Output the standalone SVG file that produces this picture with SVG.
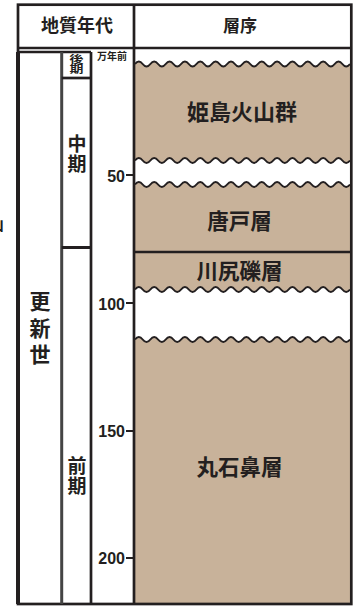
<svg xmlns="http://www.w3.org/2000/svg" xmlns:xlink="http://www.w3.org/1999/xlink" width="357" height="606" viewBox="0 0 357 606">
<style>
.ln{stroke:#231f20;fill:none;stroke-width:2.7}
.wv{stroke:#231f20;fill:none;stroke-width:2}
.br{fill:#c8b29a}
.wh{fill:#ffffff}
.jp{font-family:"Noto Sans CJK JP","Noto Sans CJK SC",sans-serif;font-weight:700;fill:#231f20;text-anchor:middle}
.vt{font-family:"Noto Sans CJK JP","Noto Sans CJK SC",sans-serif;font-weight:700;fill:#231f20;writing-mode:vertical-rl;text-anchor:start}
.num{font-family:"Liberation Sans",Arial,sans-serif;font-weight:700;font-size:16px;fill:#231f20;text-anchor:end}
</style>
<defs>
<path id="wave" d="M135,0 q3.84,-5 7.68,0 t7.68,0 t7.68,0 t7.68,0 t7.68,0 t7.68,0 t7.68,0 t7.68,0 t7.68,0 t7.68,0 t7.68,0 t7.68,0 t7.68,0 t7.68,0 t7.68,0 t7.68,0 t7.68,0 t7.68,0 t7.68,0 t7.68,0 t7.68,0 t7.68,0 t7.68,0 t7.68,0 t7.68,0 t7.68,0 t7.68,0 t7.68,0"/>
</defs>
<rect x="0" y="0" width="357" height="606" fill="#ffffff"/>
<text x="-12" y="230" class="jp" style="font-size:16px;text-anchor:start">山</text>

<g id="strata-fill">
<rect class="br" x="135" y="49" width="216" height="555"/>
<path class="wh" d="M135,49 H350.04 V64 q-3.84,5 -7.68,0 t-7.68,0 t-7.68,0 t-7.68,0 t-7.68,0 t-7.68,0 t-7.68,0 t-7.68,0 t-7.68,0 t-7.68,0 t-7.68,0 t-7.68,0 t-7.68,0 t-7.68,0 t-7.68,0 t-7.68,0 t-7.68,0 t-7.68,0 t-7.68,0 t-7.68,0 t-7.68,0 t-7.68,0 t-7.68,0 t-7.68,0 t-7.68,0 t-7.68,0 t-7.68,0 t-7.68,0 Z"/>
<path class="wh" d="M135,160.5 q3.84,-5 7.68,0 t7.68,0 t7.68,0 t7.68,0 t7.68,0 t7.68,0 t7.68,0 t7.68,0 t7.68,0 t7.68,0 t7.68,0 t7.68,0 t7.68,0 t7.68,0 t7.68,0 t7.68,0 t7.68,0 t7.68,0 t7.68,0 t7.68,0 t7.68,0 t7.68,0 t7.68,0 t7.68,0 t7.68,0 t7.68,0 t7.68,0 t7.68,0 L350.04,184.5 q-3.84,5 -7.68,0 t-7.68,0 t-7.68,0 t-7.68,0 t-7.68,0 t-7.68,0 t-7.68,0 t-7.68,0 t-7.68,0 t-7.68,0 t-7.68,0 t-7.68,0 t-7.68,0 t-7.68,0 t-7.68,0 t-7.68,0 t-7.68,0 t-7.68,0 t-7.68,0 t-7.68,0 t-7.68,0 t-7.68,0 t-7.68,0 t-7.68,0 t-7.68,0 t-7.68,0 t-7.68,0 t-7.68,0 Z"/>
<path class="wh" d="M135,289.5 q3.84,-5 7.68,0 t7.68,0 t7.68,0 t7.68,0 t7.68,0 t7.68,0 t7.68,0 t7.68,0 t7.68,0 t7.68,0 t7.68,0 t7.68,0 t7.68,0 t7.68,0 t7.68,0 t7.68,0 t7.68,0 t7.68,0 t7.68,0 t7.68,0 t7.68,0 t7.68,0 t7.68,0 t7.68,0 t7.68,0 t7.68,0 t7.68,0 t7.68,0 L350.04,339.5 q-3.84,5 -7.68,0 t-7.68,0 t-7.68,0 t-7.68,0 t-7.68,0 t-7.68,0 t-7.68,0 t-7.68,0 t-7.68,0 t-7.68,0 t-7.68,0 t-7.68,0 t-7.68,0 t-7.68,0 t-7.68,0 t-7.68,0 t-7.68,0 t-7.68,0 t-7.68,0 t-7.68,0 t-7.68,0 t-7.68,0 t-7.68,0 t-7.68,0 t-7.68,0 t-7.68,0 t-7.68,0 t-7.68,0 Z"/>
</g>

<g id="connectors">
<use xlink:href="#wave" href="#wave" class="wv" y="64"/>
<use xlink:href="#wave" href="#wave" class="wv" y="160.5"/>
<use xlink:href="#wave" href="#wave" class="wv" y="184.5"/>
<use xlink:href="#wave" href="#wave" class="wv" y="289.5"/>
<use xlink:href="#wave" href="#wave" class="wv" y="339.5"/>
<line class="ln" x1="135" y1="252" x2="351" y2="252"/>
<line class="ln" x1="126" y1="175" x2="133" y2="175" style="stroke-width:2"/>
<line class="ln" x1="126" y1="303" x2="133" y2="303" style="stroke-width:2"/>
<line class="ln" x1="126" y1="431" x2="133" y2="431" style="stroke-width:2"/>
<line class="ln" x1="126" y1="558" x2="133" y2="558" style="stroke-width:2"/>
</g>

<g id="frame">
<rect class="ln" x="18" y="4.7" width="333.3" height="599.3"/>
<line class="ln" x1="18" y1="48" x2="351.3" y2="48"/>
<line class="ln" x1="134" y1="4.7" x2="134" y2="604"/>
<line class="ln" x1="18" y1="52" x2="91" y2="52" style="stroke-width:2.5"/>
<line class="ln" x1="61.7" y1="52" x2="61.7" y2="604" style="stroke:#444;stroke-width:3"/>
<line class="ln" x1="91" y1="52" x2="91" y2="604"/>
<line class="ln" x1="18" y1="52" x2="18" y2="604" style="stroke-width:4"/>
</g>

<g id="header-age">
<text class="jp" x="77" y="32" style="font-size:18px">地質年代</text>
</g>
<g id="header-strata">
<text class="jp" x="240" y="32" style="font-size:17px">層序</text>
</g>

<g id="epoch-pleistocene">
<text class="vt" x="40" y="291" style="font-size:21px;letter-spacing:5.5px">更新世</text>
</g>

<g id="stage-late">
<line class="ln" x1="61.7" y1="78" x2="91" y2="78"/>
<text class="vt" transform="translate(76.5,54) scale(1,0.72)" x="0" y="0" style="font-size:14px">後期</text>
</g>
<g id="stage-middle">
<line class="ln" x1="61.7" y1="247.5" x2="91" y2="247.5" style="stroke-width:3"/>
<text class="vt" x="77" y="134" style="font-size:19px;letter-spacing:1.5px">中期</text>
</g>
<g id="stage-early">
<text class="vt" x="77" y="456" style="font-size:19px;letter-spacing:1px">前期</text>
</g>

<g id="age-scale">
<text class="jp" x="112" y="59.5" style="font-size:10px">万年前</text>
<text class="num" x="125" y="181.5">50</text>
<text class="num" x="125" y="309.5">100</text>
<text class="num" x="125" y="437">150</text>
<text class="num" x="125" y="564">200</text>
</g>

<g id="himeshima">
<text class="jp" x="242" y="119.5" style="font-size:22px">姫島火山群</text>
</g>
<g id="karato">
<text class="jp" x="239.5" y="228.5" style="font-size:21.5px">唐戸層</text>
</g>
<g id="kawajiri">
<text class="jp" x="239.5" y="278.5" style="font-size:21.5px">川尻礫層</text>
</g>
<g id="maruishibana">
<text class="jp" x="239.5" y="474.5" style="font-size:21.5px">丸石鼻層</text>
</g>
</svg>
